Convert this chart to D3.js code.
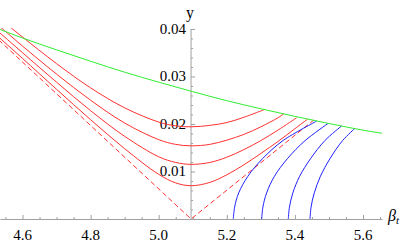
<!DOCTYPE html>
<html><head><meta charset="utf-8">
<script src="https://cdn.jsdelivr.net/npm/d3@7"></script>
<style>
html,body{margin:0;padding:0;background:#fff;}
svg{display:block;}
</style></head>
<body><svg id="c" width="407" height="243"></svg>
<script>
// ---- data ----
const xTicks = [4.6, 4.8, 5.0, 5.2, 5.4, 5.6];
const yTicks = [0.01, 0.02, 0.03, 0.04];
const greenLine = [[4.53,0.0400],[4.6,0.0381],[4.7,0.0356],[4.8,0.0332],[4.9,0.0309],[5.0,0.0288],[5.1,0.0268],[5.2,0.0249],[5.3,0.0232],[5.4,0.0216],[5.5,0.0201],[5.6,0.0187],[5.66,0.0180]];
const dashedV = [[4.53,0.0377],[5.095,0],[5.455,0.0208]];
const red1 = [[4.55,0.0412],[4.6,0.0383],[4.7,0.0327],[4.8,0.0276],[4.9,0.0234],[5.0,0.0204],[5.05,0.0196],[5.095,0.0194],[5.15,0.0197],[5.2,0.0203],[5.25,0.0214],[5.309,0.0230]];
const red2 = [[4.53,0.0407],[4.6,0.0364],[4.7,0.0305],[4.8,0.0250],[4.9,0.0202],[5.0,0.0167],[5.05,0.0157],[5.095,0.0154],[5.15,0.0157],[5.2,0.0166],[5.25,0.0178],[5.3,0.0194],[5.35,0.0213],[5.367,0.0221]];
const red3 = [[4.53,0.0394],[4.6,0.0350],[4.7,0.0288],[4.8,0.0228],[4.9,0.0174],[5.0,0.0131],[5.05,0.0119],[5.095,0.0115],[5.15,0.0119],[5.2,0.0130],[5.25,0.0146],[5.3,0.0165],[5.35,0.0187],[5.405,0.0213]];
const red4 = [[4.53,0.0383],[4.6,0.0338],[4.7,0.0273],[4.8,0.0209],[4.9,0.0148],[5.0,0.0094],[5.05,0.0076],[5.095,0.0070],[5.15,0.0077],[5.2,0.0093],[5.25,0.0114],[5.3,0.0138],[5.35,0.0163],[5.4,0.0190],[5.437,0.0210]];
const blue1 = [[5.2191,0],[5.2230,0.0025],[5.2350,0.0055],[5.2620,0.0090],[5.3050,0.0127],[5.3650,0.0165],[5.4640,0.0206]];
const blue2 = [[5.3025,0],[5.3060,0.0025],[5.3170,0.0055],[5.3400,0.0090],[5.3780,0.0127],[5.4300,0.0165],[5.4972,0.0201]];
const blue3 = [[5.3806,0],[5.3840,0.0025],[5.3940,0.0055],[5.4140,0.0090],[5.4460,0.0127],[5.4880,0.0165],[5.5374,0.0196]];
const blue4 = [[5.4443,0],[5.4475,0.0025],[5.4570,0.0055],[5.4750,0.0090],[5.5030,0.0127],[5.5400,0.0165],[5.5765,0.0191]];
const axisOriginX = 5.095;

// ---- drawing ----
const svg = d3.select("#c");
const x = d3.scaleLinear().domain([4.5339, 5.6558]).range([0, 382]);
const y = d3.scaleLinear().domain([0, 0.0402]).range([219, 28]);
const axisColor = "#a0a0a0";
const serif = "Liberation Serif";

svg.append("clipPath").attr("id","clip").append("rect")
  .attr("x",0).attr("y",28).attr("width",382).attr("height",191);

const xMinor = d3.range(4.55, 5.66, 0.05).filter(v => !xTicks.some(t => Math.abs(t-v)<1e-6));
const yMinor = d3.range(0.002, 0.0401, 0.002).filter(v => !yTicks.some(t => Math.abs(t-v)<1e-7));

const gx = svg.append("g").attr("transform","translate(0,"+y(0)+")");
gx.call(d3.axisBottom(x).tickValues(xTicks).tickFormat("").tickSize(-4).tickSizeOuter(0));
const gxm = svg.append("g").attr("transform","translate(0,"+y(0)+")");
gxm.call(d3.axisBottom(x).tickValues(xMinor).tickFormat("").tickSize(-2).tickSizeOuter(0));
gxm.select(".domain").remove();

const gy = svg.append("g").attr("transform","translate("+x(axisOriginX)+",0)");
gy.call(d3.axisLeft(y).tickValues(yTicks).tickFormat("").tickSize(-4).tickSizeOuter(0));
gy.select(".domain").attr("d","M0,"+y(0)+"V"+y(0.04));
const gym = svg.append("g").attr("transform","translate("+x(axisOriginX)+",0)");
gym.call(d3.axisLeft(y).tickValues(yMinor).tickFormat("").tickSize(-2).tickSizeOuter(0));
gym.select(".domain").remove();
[gx, gxm, gy, gym].forEach(g => g.selectAll("path, line").attr("stroke", axisColor));

// tick labels
const fx = d3.format(".1f"), fy = d3.format(".2f");
const labels = svg.append("g").attr("font-family", serif).attr("font-size", "15px").attr("fill", "#000");
labels.selectAll("text.xl").data(xTicks).join("text").attr("class","xl")
  .attr("x", d => x(d)).attr("y", 240).attr("text-anchor","middle").text(d => fx(d));
labels.selectAll("text.yl").data(yTicks).join("text").attr("class","yl")
  .attr("x", x(axisOriginX) - 5).attr("y", d => y(d) + 5).attr("text-anchor","end").text(d => fy(d));

svg.append("text").attr("font-family", serif).attr("font-size","16px")
  .attr("x", x(axisOriginX)-1).attr("y", 18).attr("text-anchor","middle").text("y");
const bl = svg.append("text").attr("font-family", serif).attr("font-size","16px").attr("font-style","italic")
  .attr("x", 388).attr("y", 221);
bl.append("tspan").text("β");
bl.append("tspan").attr("dy",3).attr("font-size","11px").text("t");

const plot = svg.append("g").attr("clip-path","url(#clip)");
const line = d3.line().x(d => x(d[0])).y(d => y(d[1])).curve(d3.curveCatmullRom);
const lineLin = d3.line().x(d => x(d[0])).y(d => y(d[1]));

plot.append("path").attr("d", lineLin(dashedV)).attr("fill","none").attr("stroke","#ff3030")
  .attr("stroke-width",1).attr("stroke-dasharray","5,3");
[red1, red2, red3, red4].forEach(s => {
  plot.append("path").attr("d", line(s)).attr("fill","none").attr("stroke","#ff3030").attr("stroke-width",1);
});
[blue1, blue2, blue3, blue4].forEach(s => {
  plot.append("path").attr("d", line(s)).attr("fill","none").attr("stroke","#2020ff").attr("stroke-width",1);
});
plot.append("path").attr("d", line(greenLine)).attr("fill","none").attr("stroke","#30ee30").attr("stroke-width",1);
</script></body></html>
